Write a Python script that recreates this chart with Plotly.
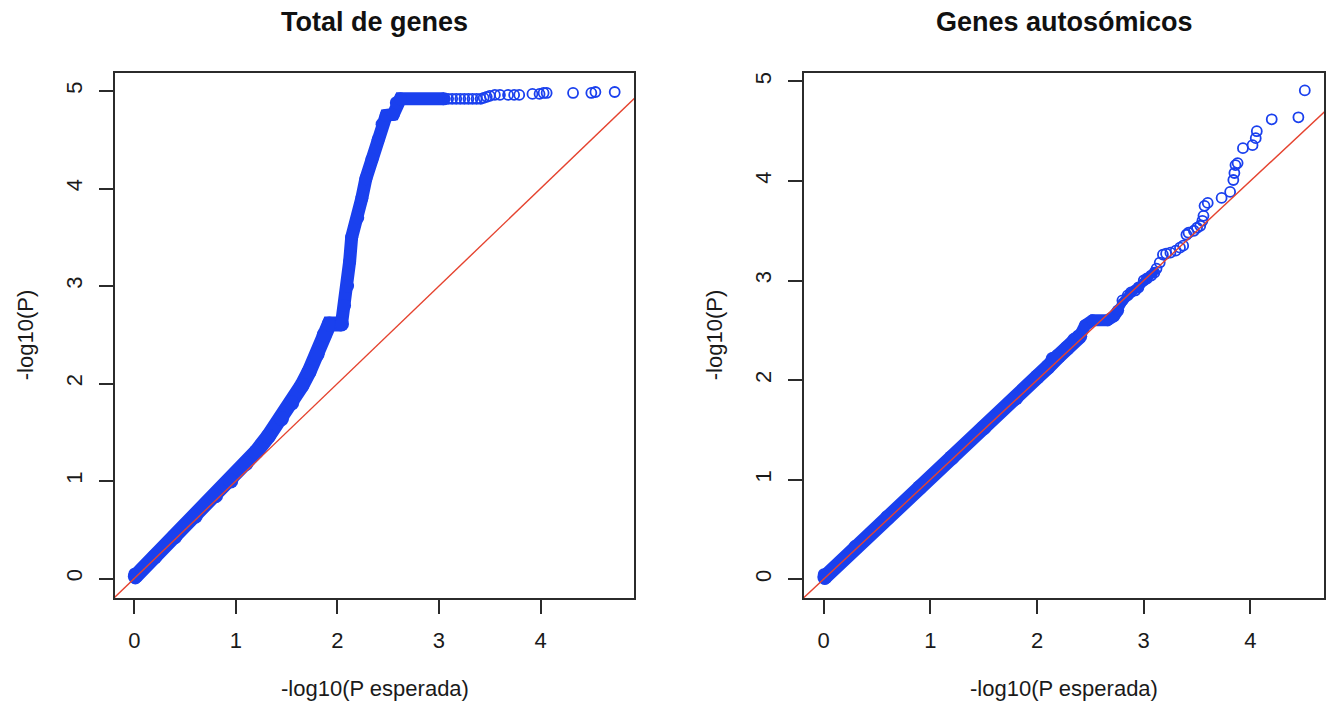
import plotly.graph_objects as go

# ---- Total de genes: dense band centre line (expected, observed) ----
left_band_low_x = [0.01, 0.20, 0.40, 0.60, 0.80, 0.95, 1.10, 1.20, 1.32, 1.45, 1.55, 1.65, 1.72, 1.80, 1.87, 1.92, 2.04]
left_band_low_y = [0.02, 0.22, 0.43, 0.64, 0.85, 1.00, 1.18, 1.30, 1.46, 1.64, 1.80, 1.98, 2.12, 2.30, 2.50, 2.61, 2.61]
left_band_up_x = [2.04, 2.07, 2.10, 2.12, 2.14, 2.20, 2.24, 2.28, 2.34, 2.40, 2.44, 2.48, 2.55, 2.58, 2.62, 3.05]
left_band_up_y = [2.61, 2.80, 3.00, 3.25, 3.50, 3.70, 3.90, 4.10, 4.30, 4.50, 4.66, 4.75, 4.76, 4.88, 4.92, 4.92]
# individual genes outside the dense band
left_pts_x = [0.00, 0.01, 3.09, 3.13, 3.17, 3.21, 3.25, 3.29, 3.33, 3.37, 3.41, 3.44, 3.47, 3.50, 3.55,
              3.60, 3.68, 3.74, 3.79, 3.92, 3.99, 4.03, 4.06, 4.32, 4.50, 4.54, 4.73]
left_pts_y = [0.05, 0.00, 4.92, 4.92, 4.92, 4.92, 4.92, 4.92, 4.92, 4.92, 4.92, 4.93, 4.94, 4.95, 4.96,
              4.96, 4.96, 4.96, 4.96, 4.97, 4.97, 4.98, 4.98, 4.98, 4.98, 4.99, 4.99]

# ---- Genes autosómicos ----
right_band_low_x = [0.01, 0.30, 0.60, 0.90, 1.20, 1.50, 1.80, 2.00, 2.10, 2.15, 2.20, 2.28, 2.35, 2.40]
right_band_low_y = [0.02, 0.32, 0.62, 0.92, 1.22, 1.52, 1.82, 2.03, 2.13, 2.21, 2.24, 2.32, 2.40, 2.44]
right_band_mid_x = [2.40, 2.45, 2.52, 2.66, 2.72, 2.76]
right_band_mid_y = [2.44, 2.55, 2.60, 2.60, 2.64, 2.70]
right_band_up_x = [2.76, 2.80, 2.88, 2.95, 3.02, 3.10]
right_band_up_y = [2.70, 2.78, 2.88, 2.93, 3.01, 3.09]
right_pts_x = [0.00, 0.01, 2.80, 2.85, 2.88, 2.92, 2.95, 3.00, 3.03, 3.07, 3.10, 3.12, 3.15, 3.18, 3.21, 3.25,
               3.30, 3.34, 3.37, 3.40, 3.42, 3.47, 3.50, 3.53, 3.55, 3.56, 3.57, 3.60, 3.73, 3.81, 3.84,
               3.85, 3.86, 3.88, 3.93, 4.02, 4.05, 4.06, 4.20, 4.45, 4.51]
right_pts_y = [0.05, 0.00, 2.80, 2.85, 2.88, 2.90, 2.93, 3.00, 3.02, 3.05, 3.08, 3.12, 3.18, 3.26, 3.27, 3.28,
               3.30, 3.33, 3.35, 3.46, 3.48, 3.50, 3.53, 3.55, 3.60, 3.65, 3.75, 3.78, 3.83, 3.89, 4.01,
               4.08, 4.16, 4.18, 4.33, 4.36, 4.43, 4.50, 4.62, 4.64, 4.91]

x_ticks = [0, 1, 2, 3, 4]
y_ticks = [0, 1, 2, 3, 4, 5]
titles = ["Total de genes", "Genes autosómicos"]
x_label = "-log10(P esperada)"
y_label = "-log10(P)"

BLUE = "#1a40ee"
RED = "#e5432f"
FONT = "Liberation Sans, Arial, sans-serif"

W, H = 1330, 707
# plot boxes in pixels: (left, right, top, bottom)
boxes = [(115, 634, 72.5, 598), (804, 1324, 72.5, 598)]
xranges = [[-0.19, 4.92], [-0.185, 4.69]]
yranges = [[-0.20, 5.19], [-0.19, 5.09]]

fig = go.Figure()


def add_panel(i, bands, px, py):
    xa = "x" if i == 0 else "x2"
    ya = "y" if i == 0 else "y2"
    for bx, by, w in bands:
        fig.add_trace(go.Scatter(
            x=bx, y=by, xaxis=xa, yaxis=ya, mode="lines+markers",
            line=dict(color=BLUE, width=w),
            marker=dict(symbol="circle", size=w, color=BLUE),
            hoverinfo="skip", showlegend=False))
    fig.add_trace(go.Scatter(
        x=px, y=py, xaxis=xa, yaxis=ya, mode="markers",
        marker=dict(symbol="circle-open", size=10, color=BLUE, line=dict(width=1.8, color=BLUE)),
        showlegend=False))
    # identity line y = x across the whole plotting region
    lo, hi = -1, 6
    fig.add_trace(go.Scatter(
        x=[lo, hi], y=[lo, hi], xaxis=xa, yaxis=ya, mode="lines",
        line=dict(color=RED, width=1.4), hoverinfo="skip", showlegend=False))


add_panel(0, [(left_band_low_x, left_band_low_y, 15), (left_band_up_x, left_band_up_y, 13)],
          left_pts_x, left_pts_y)
add_panel(1, [(right_band_low_x, right_band_low_y, 15), (right_band_mid_x, right_band_mid_y, 12),
              (right_band_up_x, right_band_up_y, 9)],
          right_pts_x, right_pts_y)

axis_common = dict(
    showline=True, mirror=True, linecolor="#2b2b2b", linewidth=1.5,
    ticks="outside", ticklen=14, tickwidth=1.5, tickcolor="#2b2b2b",
    showgrid=False, zeroline=False,
    tickfont=dict(family=FONT, size=22, color="#1a1a1a"),
)

layout = dict(
    width=W, height=H, margin=dict(l=0, r=0, t=0, b=0),
    paper_bgcolor="white", plot_bgcolor="white", showlegend=False,
)
for i, (l, r, t, b) in enumerate(boxes):
    sx = "" if i == 0 else "2"
    layout["xaxis" + sx] = dict(
        axis_common, domain=[l / W, r / W], range=xranges[i], tickvals=x_ticks,
        anchor="y" + sx, ticklabelstandoff=8)
    layout["yaxis" + sx] = dict(
        axis_common, domain=[1 - b / H, 1 - t / H], range=yranges[i], tickvals=y_ticks,
        anchor="x" + sx, tickangle=-90, ticklabelstandoff=8)
fig.update_layout(**layout)

ann = []
for i, (l, r, t, b) in enumerate(boxes):
    cx = (l + r) / 2
    ann.append(dict(text="<b>" + titles[i] + "</b>", x=cx / W, y=1 - 22 / H, xref="paper", yref="paper",
                    showarrow=False, xanchor="center", yanchor="middle",
                    font=dict(family=FONT, size=27, color="#111111")))
    ann.append(dict(text=x_label, x=cx / W, y=1 - 688 / H, xref="paper", yref="paper",
                    showarrow=False, xanchor="center", yanchor="middle",
                    font=dict(family=FONT, size=22, color="#1a1a1a")))
    ann.append(dict(text=y_label, x=(l - 90) / W, y=1 - ((t + b) / 2) / H, xref="paper", yref="paper",
                    showarrow=False, xanchor="center", yanchor="middle", textangle=-90,
                    font=dict(family=FONT, size=22, color="#1a1a1a")))
fig.update_layout(annotations=ann)

fig.write_html("out.html")
